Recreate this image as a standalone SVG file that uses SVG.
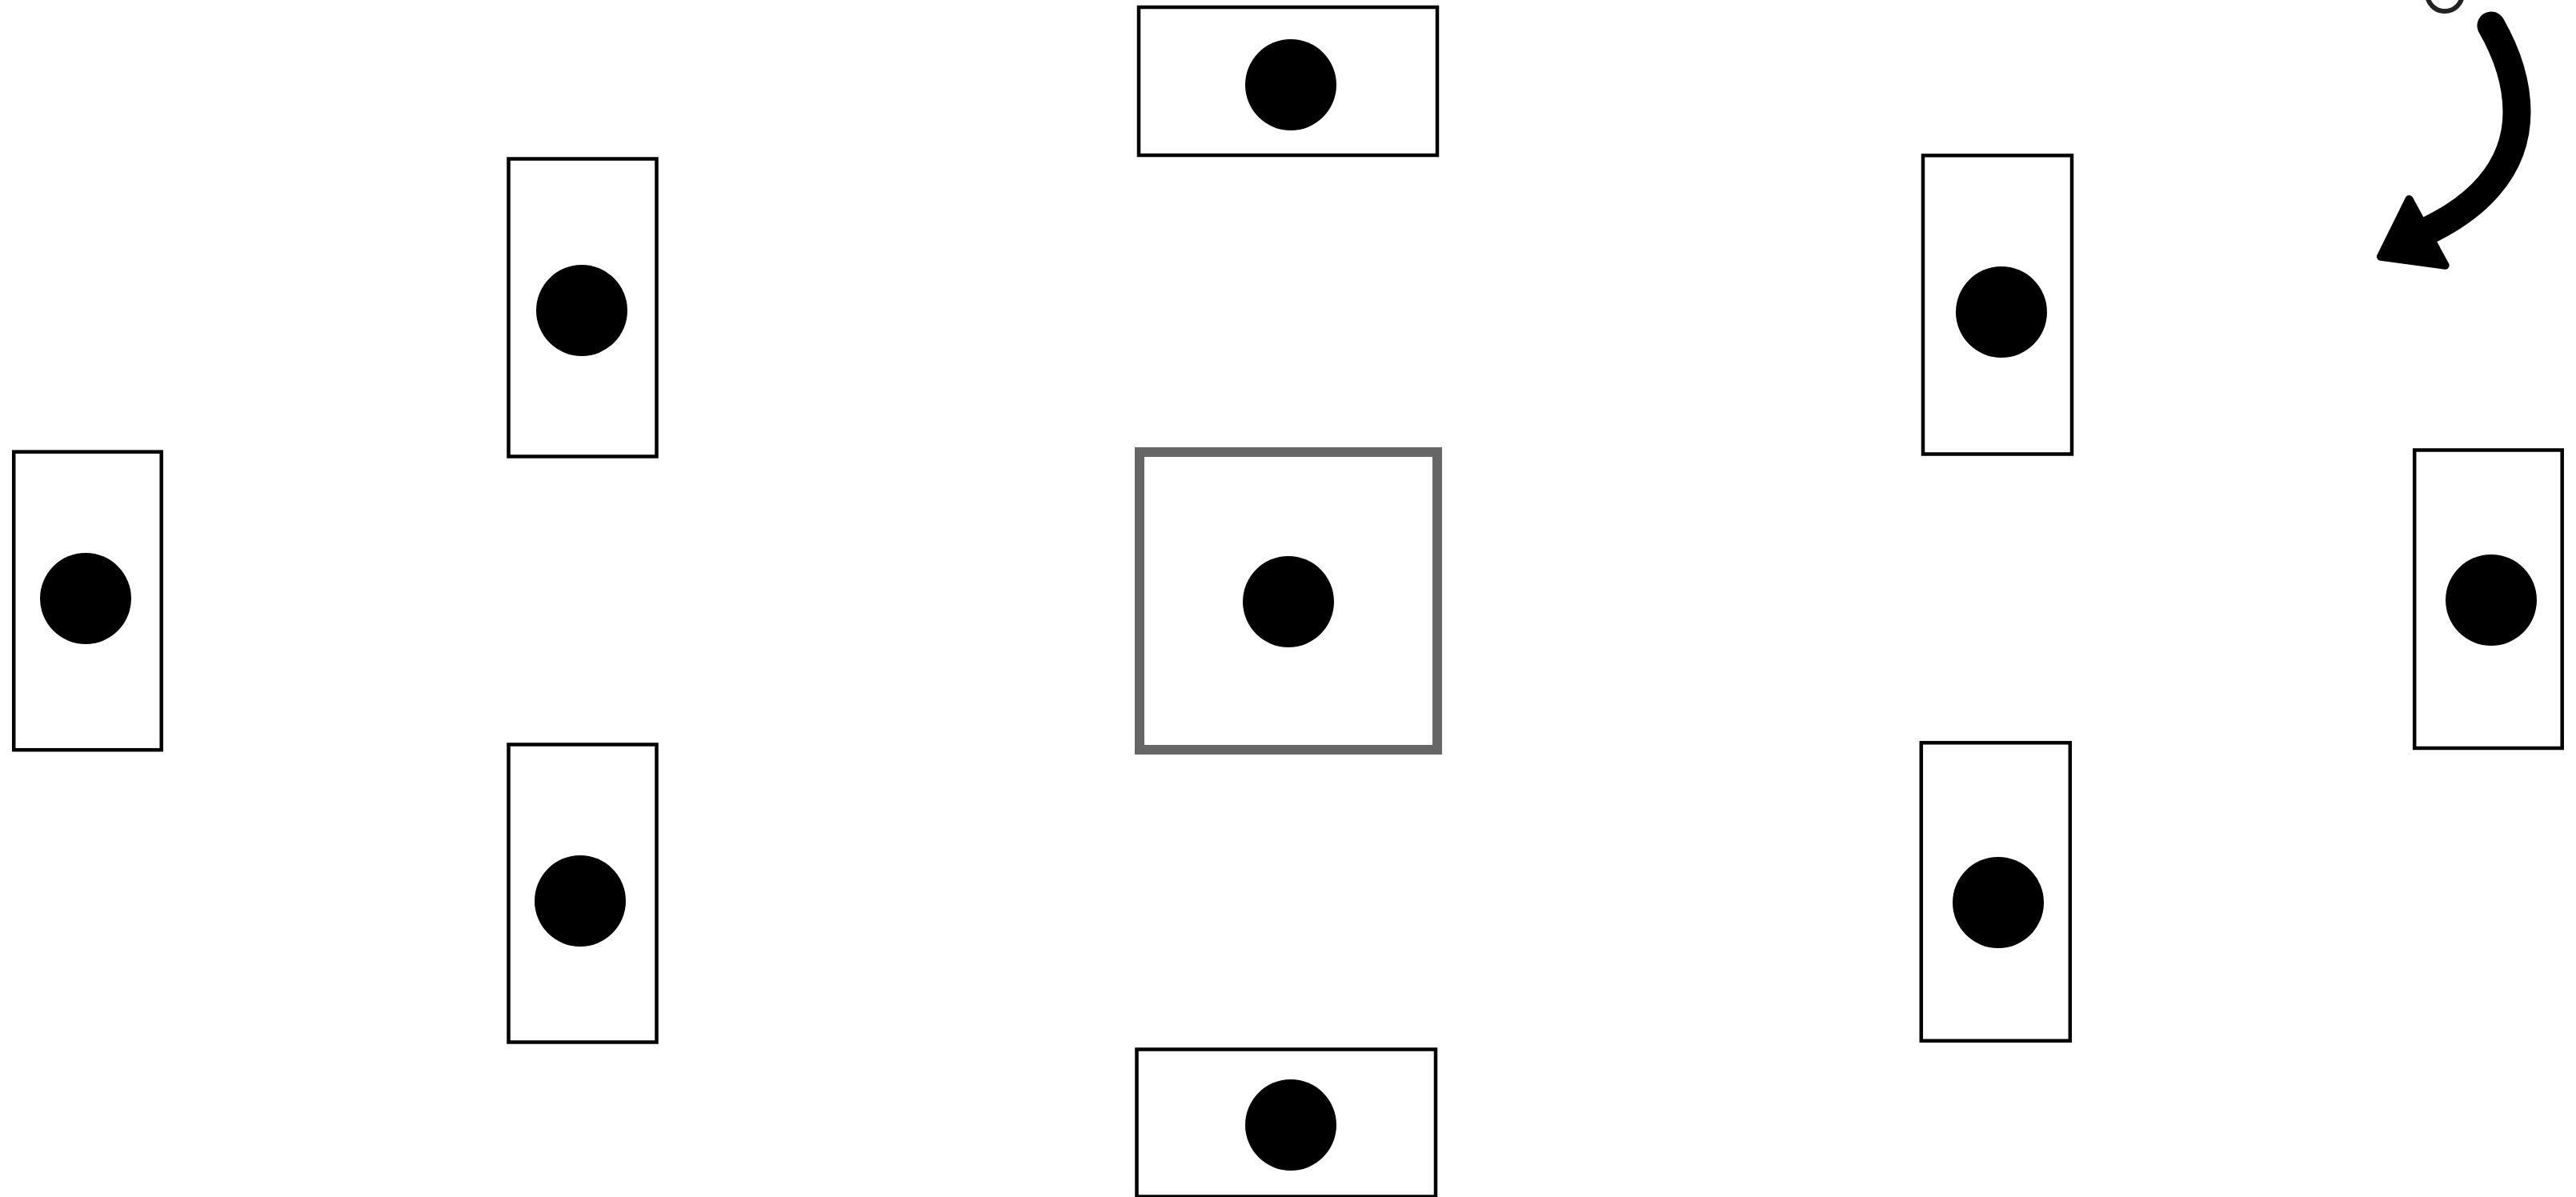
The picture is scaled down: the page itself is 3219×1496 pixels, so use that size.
<svg xmlns="http://www.w3.org/2000/svg" width="3219" height="1496" viewBox="0 0 3219 1496">
<style>
.bg{fill:#ffffff}
.frame{fill:#ffffff;stroke:#000000;stroke-width:4.5}
.tick{fill:none;stroke:#a8a8a8;stroke-width:2}
.main{fill:#ffffff;stroke:#666666;stroke-width:12}
.dot{fill:#000000}
.conn{fill:none;stroke:#000000;stroke-width:35;stroke-linecap:round}
.head{fill:#000000;stroke:#000000;stroke-width:10;stroke-linejoin:round}
.ring{fill:none;stroke:#222222;stroke-width:6}
</style>
<rect class="bg" x="0" y="0" width="3219" height="1496"/>

<g id="node-top">
  <rect class="frame" x="1423" y="9" width="373" height="185"/>
  <circle class="dot" cx="1613" cy="106" r="57"/>
</g>

<g id="node-center">
  <rect class="main" x="1424" y="565" width="372" height="372"/>
  <circle class="dot" cx="1610" cy="752" r="57"/>
</g>

<g id="node-bottom">
  <rect class="frame" x="1420.5" y="1311.5" width="373.5" height="184"/>
  <circle class="dot" cx="1613" cy="1406" r="57"/>
</g>

<g id="node-upper-left">
  <rect class="frame" x="635.5" y="198.5" width="185" height="372"/>
  <circle class="dot" cx="727" cy="388" r="57"/>
</g>

<g id="node-lower-left">
  <rect class="frame" x="635.5" y="930.5" width="185" height="372"/>
  <circle class="dot" cx="725" cy="1126" r="57"/>
</g>

<g id="node-left">
  <rect class="frame" x="17.2" y="564.7" width="184.5" height="372.5"/>
  <circle class="dot" cx="107" cy="748" r="57"/>
</g>

<g id="node-upper-right">
  <rect class="frame" x="2403" y="194.3" width="186" height="373.2"/>
  <circle class="dot" cx="2501" cy="390" r="57"/>
</g>

<g id="node-lower-right">
  <rect class="frame" x="2400.8" y="928.3" width="186" height="372.5"/>
  <circle class="dot" cx="2497" cy="1128" r="57"/>
</g>

<g id="node-right">
  <rect class="frame" x="3017.2" y="562.5" width="184.5" height="372.5"/>
  <circle class="dot" cx="3113" cy="750" r="57"/>
</g>

<g id="rotate-marker">
  <circle class="ring" cx="3055" cy="-8" r="22"/>
</g>

<g id="connectors">
  <path class="conn" d="M3113 32Q3145 88 3145 140C3145 215 3090 262 3030 290"/>
  <polygon class="head" points="3010.5,249 2975,320.8 3055.7,331.7"/>
</g>
</svg>
